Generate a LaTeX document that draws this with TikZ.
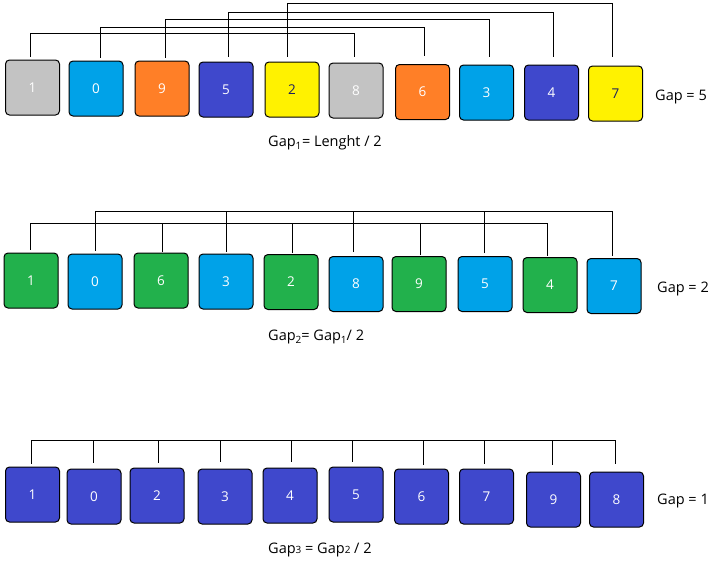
\documentclass[tikz,border=0pt]{standalone}
\usepackage{fontspec}
\setmainfont{Open Sans}
\definecolor{cgray}{HTML}{C3C3C3}
\definecolor{cblue}{HTML}{00A2E8}
\definecolor{corange}{HTML}{FF7F27}
\definecolor{cindigo}{HTML}{3F48CC}
\definecolor{cyellow}{HTML}{FFF200}
\definecolor{cgreen}{HTML}{22B14C}
\definecolor{cnavy}{HTML}{1C2060}
\tikzset{
  cell/.style={draw=black, line width=1pt, rounded corners=4pt, minimum width=54pt, minimum height=55pt, inner sep=0pt, text=white, font=\fontsize{13.5}{15}\selectfont},
  gcell/.style={cell, fill=cgray},
  bcell/.style={cell, fill=cblue},
  ocell/.style={cell, fill=corange},
  icell/.style={cell, fill=cindigo},
  ycell/.style={cell, fill=cyellow, text=cnavy},
  ncell/.style={cell, fill=cgreen},
  lbl/.style={anchor=west, inner sep=0pt, font=\fontsize{14.5}{16}\selectfont},
  wire/.style={draw=black, line width=1pt}
}
\begin{document}
\begin{tikzpicture}[x=1pt,y=-1pt]
\useasboundingbox[fill=white] (0,0) rectangle (721,574);
% ---------- Row 1 ----------
\node[gcell] (a1) at (32.5,87.5) {1};
\node[bcell] (a2) at (96,88.5) {0};
\node[ocell] (a3) at (162,88.5) {9};
\node[icell] (a4) at (226,89.5) {5};
\node[ycell] (a5) at (292,89.5) {2};
\node[gcell] (a6) at (356,90.5) {8};
\node[ocell] (a7) at (422.5,92) {6};
\node[bcell] (a8) at (486.5,92.5) {3};
\node[icell] (a9) at (551.5,92.5) {4};
\node[ycell] (a10) at (615.5,93.5) {7};
\node[lbl] (g1) at (655,97) {Gap = 5};
\node[lbl] (f1) at (268,143) {Gap\textsubscript{1}= Lenght / 2};
\coordinate (h11) at (0,33);
\coordinate (h12) at (0,27);
\coordinate (h13) at (0,19);
\coordinate (h14) at (0,12);
\coordinate (h15) at (0,3);
\coordinate (pa1) at ([xshift=-2.5pt,yshift=3pt]a1.north);
\coordinate (pa2) at ([xshift=4pt,yshift=3pt]a2.north);
\coordinate (pa3) at ([xshift=3pt,yshift=3pt]a3.north);
\coordinate (pa4) at ([xshift=2pt,yshift=5pt]a4.north);
\coordinate (pa5) at ([xshift=-5pt,yshift=5pt]a5.north);
\coordinate (pa6) at ([xshift=-2pt,yshift=6pt]a6.north);
\coordinate (pa7) at ([xshift=1.5pt,yshift=8pt]a7.north);
\coordinate (pa8) at ([xshift=2.5pt,yshift=8pt]a8.north);
\coordinate (pa9) at ([xshift=1.5pt,yshift=8pt]a9.north);
\coordinate (pa10) at ([xshift=-3.5pt,yshift=9pt]a10.north);
\draw[wire] (pa1) |- (h11 -| pa6) -- (pa6);
\draw[wire] (pa2) |- (h12 -| pa7) -- (pa7);
\draw[wire] (pa3) |- (h13 -| pa8) -- (pa8);
\draw[wire] (pa4) |- (h14 -| pa9) -- (pa9);
\draw[wire] (pa5) |- (h15 -| pa10) -- (pa10);
% ---------- Row 2 ----------
\node[ncell] (b1) at (31,280.5) {1};
\node[bcell] (b2) at (95,281.5) {0};
\node[ncell] (b3) at (161,280.5) {6};
\node[bcell] (b4) at (226,281.5) {3};
\node[ncell] (b5) at (291,282) {2};
\node[bcell] (b6) at (356,284) {8};
\node[ncell] (b7) at (419,284) {9};
\node[bcell] (b8) at (485,284) {5};
\node[ncell] (b9) at (550,285) {4};
\node[bcell] (b10) at (614,286) {7};
\node[lbl] (g2) at (657,289) {Gap = 2};
\node[lbl] (f2) at (268,337) {Gap\raisebox{-3pt}{\fontsize{10}{11}\selectfont 2}= Gap\raisebox{-3pt}{\fontsize{10}{11}\selectfont 1}/ 2};
\coordinate (h2a) at (0,223);
\coordinate (h2b) at (0,211);
\coordinate (pb1) at ([xshift=-1pt,yshift=3pt]b1.north);
\coordinate (pb2) at ([yshift=3pt]b2.north);
\coordinate (pb3) at ([xshift=1pt,yshift=1pt]b3.north);
\coordinate (pb4) at ([yshift=2pt]b4.north);
\coordinate (pb5) at ([xshift=1pt,yshift=1pt]b5.north);
\coordinate (pb6) at ([xshift=-3pt,yshift=4pt]b6.north);
\coordinate (pb7) at ([xshift=1pt,yshift=1pt]b7.north);
\coordinate (pb8) at ([xshift=-1pt,yshift=3pt]b8.north);
\coordinate (pb9) at ([xshift=-3pt,yshift=1pt]b9.north);
\coordinate (pb10) at ([xshift=-2pt,yshift=2pt]b10.north);
\draw[wire] (pb1) |- (h2a -| pb9) -- (pb9);
\draw[wire] (pb3) -- (h2a -| pb3);
\draw[wire] (pb5) -- (h2a -| pb5);
\draw[wire] (pb7) -- (h2a -| pb7);
\draw[wire] (pb2) |- (h2b -| pb10) -- (pb10);
\draw[wire] (pb4) -- (h2b -| pb4);
\draw[wire] (pb6) -- (h2b -| pb6);
\draw[wire] (pb8) -- (h2b -| pb8);
% ---------- Row 3 ----------
\node[icell] (c1) at (32.5,494.5) {1};
\node[icell] (c2) at (94,496.5) {0};
\node[icell] (c3) at (157,495.5) {2};
\node[icell] (c4) at (225,496.5) {3};
\node[icell] (c5) at (290,495.5) {4};
\node[icell] (c6) at (356,494.5) {5};
\node[icell] (c7) at (421.5,496.5) {6};
\node[icell] (c8) at (486.5,496.5) {7};
\node[icell] (c9) at (553.5,499.5) {9};
\node[icell] (c10) at (616.5,499.5) {8};
\node[lbl] (g3) at (657,501) {Gap = 1};
\node[lbl] (f3) at (268,550) {Gap{\fontsize{10}{11}\selectfont 3} = Gap{\fontsize{10}{11}\selectfont 2} / 2};
\coordinate (h3) at (0,440);
\coordinate (pc1) at ([xshift=-1.5pt,yshift=3pt]c1.north);
\coordinate (pc2) at ([xshift=-1pt,yshift=6pt]c2.north);
\coordinate (pc3) at ([xshift=1pt,yshift=5pt]c3.north);
\coordinate (pc4) at ([xshift=-5pt,yshift=7pt]c4.north);
\coordinate (pc5) at ([xshift=1pt,yshift=6pt]c5.north);
\coordinate (pc6) at ([xshift=-4pt,yshift=5pt]c6.north);
\coordinate (pc7) at ([xshift=1.5pt,yshift=4pt]c7.north);
\coordinate (pc8) at ([xshift=-2.5pt,yshift=5pt]c8.north);
\coordinate (pc9) at ([xshift=-1.5pt,yshift=7pt]c9.north);
\coordinate (pc10) at ([xshift=-1.5pt,yshift=8pt]c10.north);
\draw[wire] (pc1) |- (h3 -| pc10) -- (pc10);
\draw[wire] (pc2) -- (h3 -| pc2);
\draw[wire] (pc3) -- (h3 -| pc3);
\draw[wire] (pc4) -- (h3 -| pc4);
\draw[wire] (pc5) -- (h3 -| pc5);
\draw[wire] (pc6) -- (h3 -| pc6);
\draw[wire] (pc7) -- (h3 -| pc7);
\draw[wire] (pc8) -- (h3 -| pc8);
\draw[wire] (pc9) -- (h3 -| pc9);
\end{tikzpicture}
\end{document}
